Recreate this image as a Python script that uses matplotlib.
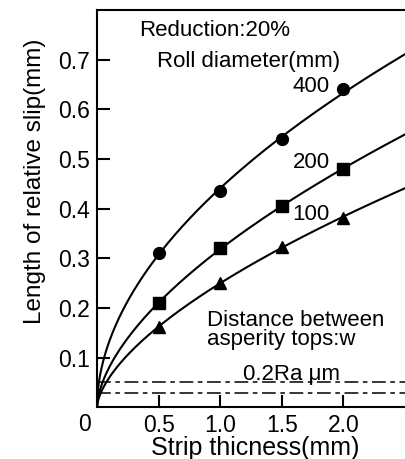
import numpy as np
import matplotlib.pyplot as plt

plt.rcParams["font.family"] = ["Liberation Sans", "DejaVu Sans"]

# ---------------------------
# Data
# ---------------------------
thickness = [0.5, 1.0, 1.5, 2.0]
slip_400 = [0.31, 0.435, 0.54, 0.642]
slip_200 = [0.21, 0.32, 0.405, 0.48]
slip_100 = [0.162, 0.25, 0.323, 0.382]
roll_labels = ["400", "200", "100"]
asperity_levels = [0.05, 0.028]

x_ticks = [0.5, 1.0, 1.5, 2.0]
y_ticks = [0.1, 0.2, 0.3, 0.4, 0.5, 0.6, 0.7]

fig = plt.figure(figsize=(4.05, 4.59), dpi=100)
ax = fig.add_axes([0.2395, 0.113, 0.7605, 0.865])

# ---------------------------
# Curves: power-law fit through each series
# ---------------------------
xs = np.linspace(0.0, 2.5, 300)
series = [(slip_400, "o"), (slip_200, "s"), (slip_100, "^")]
for ys, marker in series:
    b, log_a = np.polyfit(np.log(thickness), np.log(ys), 1)
    ax.plot(xs, np.exp(log_a) * xs ** b, color="black", lw=1.5)
    ax.plot(thickness, ys, marker=marker, ls="none", color="black", ms=8.5)

# asperity distance lines
ax.axhline(asperity_levels[0], color="black", lw=1.1, dashes=(9, 3, 3, 3))
ax.axhline(asperity_levels[1], color="black", lw=1.1, dashes=(9, 3, 3, 3))

# ---------------------------
# Axes styling
# ---------------------------
ax.set_xlim(0, 2.5)
ax.set_ylim(0, 0.8)
ax.spines["right"].set_visible(False)
for s in ["left", "bottom", "top"]:
    ax.spines[s].set_linewidth(1.5)
ax.set_xticks(x_ticks)
ax.set_xticklabels([f"{v:.1f}" for v in x_ticks], fontsize=16.5)
ax.set_yticks(y_ticks)
ax.set_yticklabels([f"{v:.1f}" for v in y_ticks], fontsize=16.5)
ax.tick_params(direction="in", length=9, width=1.5, pad=5)
ax.text(-0.05, -0.012, "0", fontsize=16.5, ha="right", va="top")

ax.set_xlabel("Strip thicness(mm)", fontsize=18)
ax.xaxis.set_label_coords(0.515, -0.073)
ax.set_ylabel("Length of relative slip(mm)", fontsize=17.5)
ax.yaxis.set_label_coords(-0.165, 0.57)

# ---------------------------
# Annotations
# ---------------------------
ax.text(0.34, 0.758, "Reduction:20%", fontsize=16, va="center")
ax.text(0.49, 0.697, "Roll diameter(mm)", fontsize=16, va="center")
ax.text(1.89, 0.646, roll_labels[0], fontsize=16, ha="right", va="center")
ax.text(1.89, 0.493, roll_labels[1], fontsize=16, ha="right", va="center")
ax.text(1.89, 0.388, roll_labels[2], fontsize=16, ha="right", va="center")
ax.text(0.895, 0.156, "Distance between\nasperity tops:w", fontsize=16,
        va="center", linespacing=0.9)
ax.text(1.58, 0.066, "0.2Ra \u03bcm", fontsize=16, ha="center", va="center")

fig.savefig("out.png", dpi=100)
